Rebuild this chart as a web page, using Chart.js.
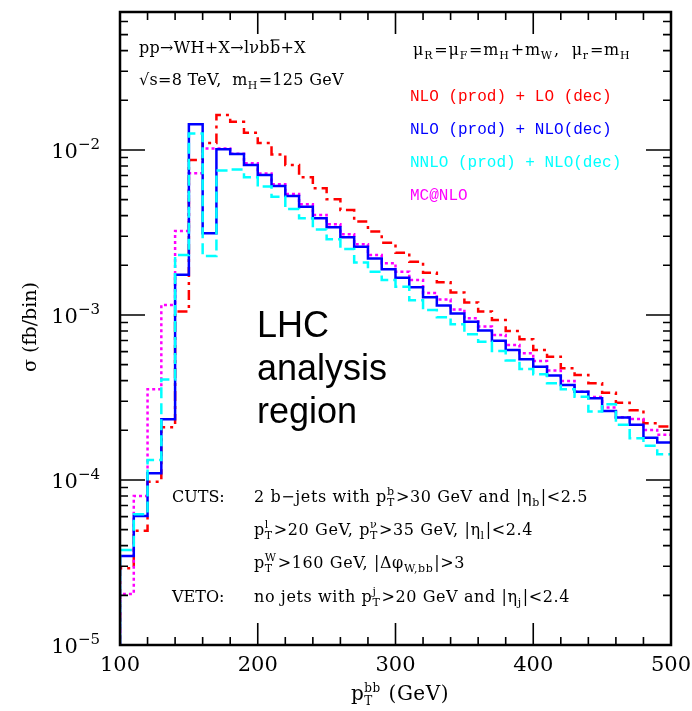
<!DOCTYPE html>
<html>
<head>
<meta charset="utf-8">
<script src="https://cdn.jsdelivr.net/npm/chart.js@4.4.1/dist/chart.umd.min.js"></script>
<style>
  html, body { margin: 0; padding: 0; background: #fff; }
  #wrap { width: 692px; height: 711px; position: relative; }
</style>
</head>
<body>
<div id="wrap"><canvas id="chart"></canvas></div>
<script>
// lower edges of the 10 GeV bins (GeV)
const binEdges = [100,110,120,130,140,150,160,170,180,190,
                  200,210,220,230,240,250,260,270,280,290,
                  300,310,320,330,340,350,360,370,380,390,
                  400,410,420,430,440,450,460,470,480,490];
const lastEdge = 500;

// sigma per bin (fb/bin)
const nloProdLoDec = [2.92e-5,4.93e-5,9.77e-5,2.09e-4,1.05e-3,8.7e-3,1.10e-2,1.63e-2,1.48e-2,1.27e-2,
                      1.10e-2,9.4e-3,8.1e-3,6.83e-3,5.86e-3,5.02e-3,4.33e-3,3.68e-3,3.20e-3,2.74e-3,
                      2.38e-3,2.10e-3,1.80e-3,1.58e-3,1.37e-3,1.19e-3,1.05e-3,9.33e-4,8.0e-4,7.13e-4,
                      6.14e-4,5.59e-4,4.75e-4,4.33e-4,3.86e-4,3.38e-4,2.94e-4,2.65e-4,2.21e-4,2.11e-4];
const nloProdNloDec = [3.46e-5,6.05e-5,1.10e-4,2.33e-4,1.75e-3,1.43e-2,3.13e-3,1.01e-2,9.46e-3,8.1e-3,
                       7.05e-3,6.05e-3,5.26e-3,4.53e-3,3.85e-3,3.40e-3,2.96e-3,2.59e-3,2.20e-3,1.89e-3,
                       1.68e-3,1.47e-3,1.28e-3,1.14e-3,1.02e-3,9.11e-4,8.04e-4,6.99e-4,6.14e-4,5.39e-4,
                       4.86e-4,4.29e-4,3.77e-4,3.43e-4,3.13e-4,2.62e-4,2.39e-4,2.16e-4,1.80e-4,1.69e-4];
const nnloProdNloDec = [3.77e-5,6.2e-5,1.32e-4,4.07e-4,2.31e-3,1.26e-2,2.28e-3,7.5e-3,7.6e-3,6.83e-3,
                        6.0e-3,5.21e-3,4.38e-3,3.85e-3,3.30e-3,2.88e-3,2.51e-3,2.08e-3,1.83e-3,1.63e-3,
                        1.48e-3,1.23e-3,1.07e-3,9.7e-4,8.8e-4,7.64e-4,6.89e-4,6.05e-4,5.3e-4,4.7e-4,
                        4.38e-4,3.86e-4,3.55e-4,3.20e-4,2.60e-4,2.88e-4,2.16e-4,1.79e-4,1.61e-4,1.43e-4];
const mcAtNlo = [2.04e-5,8.0e-5,3.55e-4,1.15e-3,3.23e-3,7.23e-3,1.02e-2,1.02e-2,9.5e-3,8.3e-3,
                 7.2e-3,6.2e-3,5.4e-3,4.69e-3,4.04e-3,3.55e-3,3.08e-3,2.68e-3,2.31e-3,2.06e-3,
                 1.83e-3,1.63e-3,1.36e-3,1.24e-3,1.08e-3,9.55e-4,8.5e-4,7.57e-4,6.58e-4,5.86e-4,
                 5.26e-4,4.6e-4,3.98e-4,3.43e-4,3.18e-4,2.75e-4,2.4e-4,2.34e-4,2.01e-4,1.88e-4];

const xMajorTicks = [100,200,300,400,500];
const xMinorStep = 20;
const yDecades = [-5,-4,-3,-2];
const yMin = 1e-5, yMax = Math.pow(10, -1.164);

const SERIF = '"DejaVu Serif", "Liberation Serif", serif';
const MONO = '"Liberation Mono", "DejaVu Sans Mono", monospace';

// histogram outline: rise from the floor at 100, then one step per bin
function histPoints(vals){
  const pts = [{x: binEdges[0], y: yMin}];
  binEdges.forEach((e,i)=> pts.push({x: e, y: vals[i]}));
  pts.push({x: lastEdge, y: vals[vals.length-1]});
  return pts;
}

// text with sub/superscripts: parts are strings or {sub, sup} or {over}
function rich(ctx, x, y, parts, size, family, color, align, ratio, spacing){
  ratio = ratio || 0.62;
  const small = Math.round(size * ratio);
  const f = s => `${s}px ${family}`;
  ctx.letterSpacing = (spacing || 0) + 'px';
  const w = p => {
    if(typeof p === 'string'){ ctx.font = f(size); return ctx.measureText(p).width; }
    if(p.over){ ctx.font = f(size); return ctx.measureText(p.over).width; }
    ctx.font = f(small);
    return Math.max(p.sub ? ctx.measureText(p.sub).width : 0, p.sup ? ctx.measureText(p.sup).width : 0) + 1;
  };
  const total = parts.reduce((s,p)=> s + w(p), 0);
  let cx = align === 'center' ? x - total/2 : align === 'right' ? x - total : x;
  ctx.fillStyle = color; ctx.strokeStyle = color;
  ctx.textAlign = 'left'; ctx.textBaseline = 'alphabetic';
  parts.forEach(p=>{
    const pw = w(p);
    if(typeof p === 'string'){ ctx.font = f(size); ctx.fillText(p, cx, y); }
    else if(p.over){
      ctx.font = f(size); ctx.fillText(p.over, cx, y);
      ctx.lineWidth = 1; ctx.beginPath();
      ctx.moveTo(cx + 1, y - size*0.82); ctx.lineTo(cx + pw - 1, y - size*0.82); ctx.stroke();
    } else {
      ctx.font = f(small);
      if(p.sub) ctx.fillText(p.sub, cx, y + size*0.25);
      if(p.sup) ctx.fillText(p.sup, cx, y - size*0.42);
    }
    cx += pw;
  });
  ctx.letterSpacing = '0px';
}

const decorations = {
  id: 'decorations',
  afterDraw(chart){
    const {ctx, chartArea: a, scales: {x, y}} = chart;
    ctx.save();
    ctx.strokeStyle = '#000';

    // x ticks, bottom and top
    ctx.lineWidth = 1.6;
    for(let v = xMajorTicks[0]; v <= xMajorTicks[xMajorTicks.length-1]; v += xMinorStep){
      const px = x.getPixelForValue(v);
      const len = xMajorTicks.includes(v) ? 22 : 8;
      ctx.beginPath();
      ctx.moveTo(px, a.bottom); ctx.lineTo(px, a.bottom - len);
      ctx.moveTo(px, a.top); ctx.lineTo(px, a.top + len);
      ctx.stroke();
    }
    // y ticks, left and right
    yDecades.forEach(d=>{
      for(let m = 1; m <= 9; m++){
        const v = m * Math.pow(10, d);
        if(v > yMax) break;
        const py = y.getPixelForValue(v);
        const len = m === 1 ? 25 : 8;
        ctx.beginPath();
        ctx.moveTo(a.left, py); ctx.lineTo(a.left + len, py);
        ctx.moveTo(a.right, py); ctx.lineTo(a.right - len, py);
        ctx.stroke();
      }
    });
    // frame
    ctx.lineWidth = 2.5;
    ctx.strokeRect(a.left, a.top, a.right - a.left, a.bottom - a.top);

    // tick labels
    xMajorTicks.forEach(v=>{
      rich(ctx, x.getPixelForValue(v), a.bottom + 26, [String(v)], 21, SERIF, '#000', 'center');
    });
    yDecades.forEach(d=>{
      const py = y.getPixelForValue(Math.pow(10, d));
      rich(ctx, 101, py + 8, ['10', {sup: '\u2212' + Math.abs(d)}], 21, SERIF, '#000', 'right', 0.7);
    });

    // axis titles
    rich(ctx, 400, 700, ['p', {sub: 'T', sup: 'bb'}, ' (GeV)'], 20, SERIF, '#000', 'center', 0.62, 0.5);
    ctx.save();
    ctx.translate(30, 327); ctx.rotate(-Math.PI/2);
    rich(ctx, 0, 6, ['\u03c3 (fb/bin)'], 19, SERIF, '#000', 'center');
    ctx.restore();

    // process and scale labels
    rich(ctx, 139, 53, ['pp\u2192WH+X\u2192l\u03bdb', {over: 'b'}, '+X'], 16, SERIF, '#000', 'left', 0.68, 0.3);
    rich(ctx, 139, 85, ['\u221as=8 TeV,  m', {sub: 'H'}, '=125 GeV'], 16, SERIF, '#000', 'left', 0.68, 0.3);
    rich(ctx, 413, 55, ['\u03bc', {sub: 'R'}, '=\u03bc', {sub: 'F'}, '=m', {sub: 'H'}, '+m', {sub: 'W'}, ',  \u03bc', {sub: 'r'}, '=m', {sub: 'H'}], 16, SERIF, '#000', 'left', 0.7, 0.8);

    // legend
    chart.data.datasets.forEach((ds, i)=>{
      ctx.font = `16px ${MONO}`; ctx.fillStyle = ds.borderColor;
      ctx.textAlign = 'left'; ctx.textBaseline = 'middle';
      ctx.fillText(ds.label, 410, 97 + 33 * i);
    });

    // big label
    ctx.font = '36px "Liberation Sans", Arial, sans-serif';
    ctx.fillStyle = '#000'; ctx.textAlign = 'left'; ctx.textBaseline = 'alphabetic';
    ['LHC', 'analysis', 'region'].forEach((t, i)=> ctx.fillText(t, 257, 337 + 43 * i));

    // cuts
    const fs = 16, sp = 0.6, r = 0.68;
    rich(ctx, 172, 502, ['CUTS:'], fs, SERIF, '#000', 'left', r, 0);
    rich(ctx, 254, 502, ['2 b\u2212jets with p', {sub: 'T', sup: 'b'}, '>30 GeV and |\u03b7', {sub: 'b'}, '|<2.5'], fs, SERIF, '#000', 'left', r, sp);
    rich(ctx, 254, 535, ['p', {sub: 'T', sup: 'l'}, '>20 GeV, p', {sub: 'T', sup: '\u03bd'}, '>35 GeV, |\u03b7', {sub: 'l'}, '|<2.4'], fs, SERIF, '#000', 'left', r, sp);
    rich(ctx, 254, 568, ['p', {sub: 'T', sup: 'W'}, '>160 GeV, |\u0394\u03c6', {sub: 'W,bb'}, '|>3'], fs, SERIF, '#000', 'left', r, sp);
    rich(ctx, 172, 602, ['VETO:'], fs, SERIF, '#000', 'left', r, 0);
    rich(ctx, 254, 602, ['no jets with p', {sub: 'T', sup: 'j'}, '>20 GeV and |\u03b7', {sub: 'j'}, '|<2.4'], fs, SERIF, '#000', 'left', r, sp);

    ctx.restore();
  }
};

function histDataset(label, vals, color, dash, order){
  return {
    label, data: histPoints(vals),
    borderColor: color, backgroundColor: color,
    borderWidth: 2.5, borderDash: dash,
    stepped: 'before', pointRadius: 0, fill: false, order
  };
}

new Chart(document.getElementById('chart'), {
  type: 'line',
  data: {
    datasets: [
      histDataset('NLO (prod) + LO (dec)', nloProdLoDec, '#ff0000', [10,5,3,5], 3),
      histDataset('NLO (prod) + NLO(dec)', nloProdNloDec, '#0000ff', [], 1),
      histDataset('NNLO (prod) + NLO(dec)', nnloProdNloDec, '#00ffff', [11,5], 0),
      histDataset('MC@NLO', mcAtNlo, '#ff00ff', [3,3], 2)
    ]
  },
  options: {
    responsive: true,
    maintainAspectRatio: false,
    animation: false,
    layout: { padding: { left: 120, right: 21, top: 12, bottom: 66 } },
    plugins: { legend: { display: false }, tooltip: { enabled: false } },
    scales: {
      x: { type: 'linear', min: 100, max: 500, display: false },
      y: { type: 'logarithmic', min: yMin, max: yMax, display: false }
    }
  },
  plugins: [decorations]
});
</script>
</body>
</html>
